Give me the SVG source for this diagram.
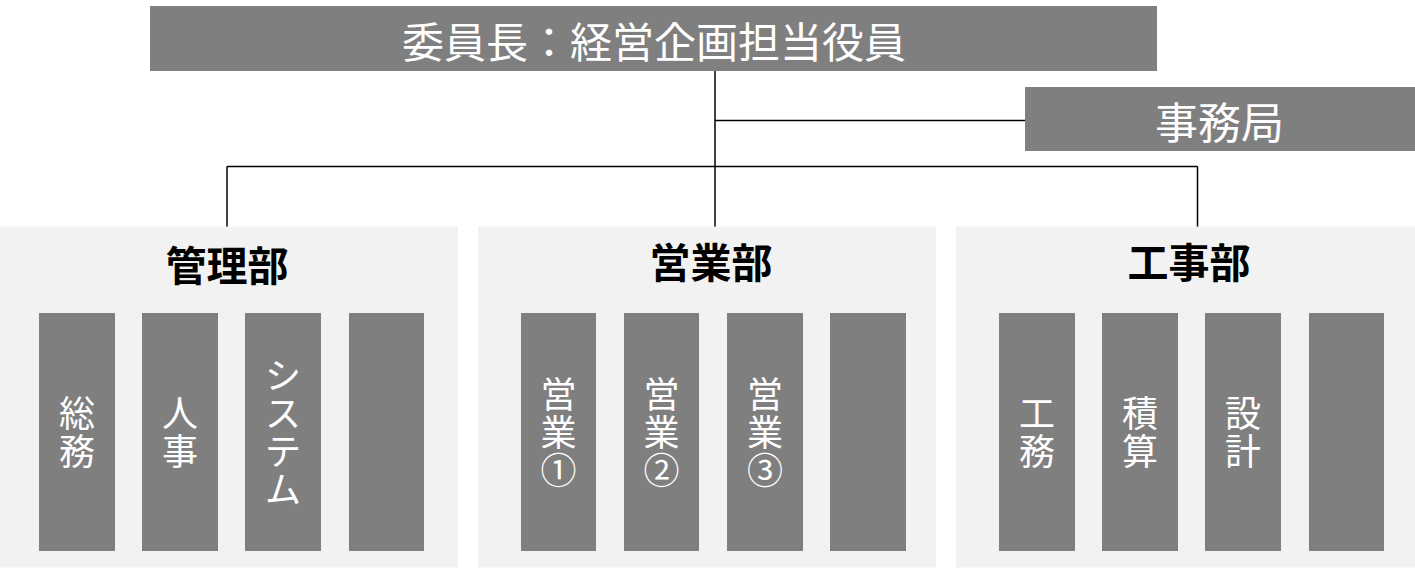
<svg xmlns="http://www.w3.org/2000/svg" width="1415" height="569" viewBox="0 0 1415 569">
<style>
.dark{fill:#7f7f7f}
.panel{fill:#f2f2f2}
.wt{fill:#ffffff;font-family:"Noto Sans CJK JP","Noto Sans CJK SC",sans-serif;text-anchor:middle}
.hd{fill:#000000;font-family:"Noto Sans CJK JP","Noto Sans CJK SC",sans-serif;font-weight:bold;font-size:41px;text-anchor:middle}
.col{font-size:36px}
.conn{stroke:#000000;stroke-width:1.5;fill:none}
</style>
<rect width="1415" height="569" fill="#ffffff"/>
<g id="connectors">
<line class="conn" x1="715" y1="71" x2="715" y2="227"/>
<line class="conn" x1="715" y1="120.5" x2="1025" y2="120.5"/>
<line class="conn" x1="227" y1="166.5" x2="1197.5" y2="166.5"/>
<line class="conn" x1="227" y1="166.5" x2="227" y2="227"/>
<line class="conn" x1="1197.5" y1="166.5" x2="1197.5" y2="227"/>
</g>
<g id="chair">
<rect class="dark" x="150" y="6" width="1007" height="65"/>
<text class="wt" x="654" y="58" font-size="42">委員長：経営企画担当役員</text>
</g>
<g id="secretariat">
<rect class="dark" x="1025" y="87" width="390" height="64"/>
<text class="wt" x="1219.5" y="139" font-size="43">事務局</text>
</g>
<g id="kanri">
<rect class="panel" x="0" y="226.5" width="458" height="341"/>
<text class="hd" x="227" y="281">管理部</text>
<g id="kanri-soumu">
<rect class="dark" x="39" y="313" width="76" height="238"/>
<text class="wt col"><tspan x="77" y="427">総</tspan><tspan x="77" y="465">務</tspan></text>
</g>
<g id="kanri-jinji">
<rect class="dark" x="142" y="313" width="76" height="238"/>
<text class="wt col"><tspan x="180" y="427">人</tspan><tspan x="180" y="465">事</tspan></text>
</g>
<g id="kanri-system">
<rect class="dark" x="245" y="313" width="76" height="238"/>
<text class="wt col"><tspan x="283" y="389">シ</tspan><tspan x="283" y="427">ス</tspan><tspan x="283" y="465">テ</tspan><tspan x="283" y="503">ム</tspan></text>
</g>
<g id="kanri-blank">
<rect class="dark" x="349" y="313" width="75" height="238"/>
</g>
</g>
<g id="eigyo">
<rect class="panel" x="478" y="226.5" width="458" height="341"/>
<text class="hd" x="711" y="278">営業部</text>
<g id="eigyo-1">
<rect class="dark" x="521" y="313" width="75" height="238"/>
<text class="wt col"><tspan x="558.5" y="408">営</tspan><tspan x="558.5" y="446">業</tspan><tspan x="558.5" y="484">①</tspan></text>
</g>
<g id="eigyo-2">
<rect class="dark" x="624" y="313" width="75" height="238"/>
<text class="wt col"><tspan x="661.5" y="408">営</tspan><tspan x="661.5" y="446">業</tspan><tspan x="661.5" y="484">②</tspan></text>
</g>
<g id="eigyo-3">
<rect class="dark" x="727" y="313" width="76" height="238"/>
<text class="wt col"><tspan x="765" y="408">営</tspan><tspan x="765" y="446">業</tspan><tspan x="765" y="484">③</tspan></text>
</g>
<g id="eigyo-blank">
<rect class="dark" x="830" y="313" width="76" height="238"/>
</g>
</g>
<g id="kouji">
<rect class="panel" x="956" y="226.5" width="459" height="341"/>
<text class="hd" x="1189" y="278">工事部</text>
<g id="kouji-koumu">
<rect class="dark" x="999" y="313" width="76" height="238"/>
<text class="wt col"><tspan x="1037" y="427">工</tspan><tspan x="1037" y="465">務</tspan></text>
</g>
<g id="kouji-sekisan">
<rect class="dark" x="1102" y="313" width="76" height="238"/>
<text class="wt col"><tspan x="1140" y="427">積</tspan><tspan x="1140" y="465">算</tspan></text>
</g>
<g id="kouji-sekkei">
<rect class="dark" x="1205" y="313" width="76" height="238"/>
<text class="wt col"><tspan x="1243" y="427">設</tspan><tspan x="1243" y="465">計</tspan></text>
</g>
<g id="kouji-blank">
<rect class="dark" x="1309" y="313" width="75" height="238"/>
</g>
</g>
</svg>
